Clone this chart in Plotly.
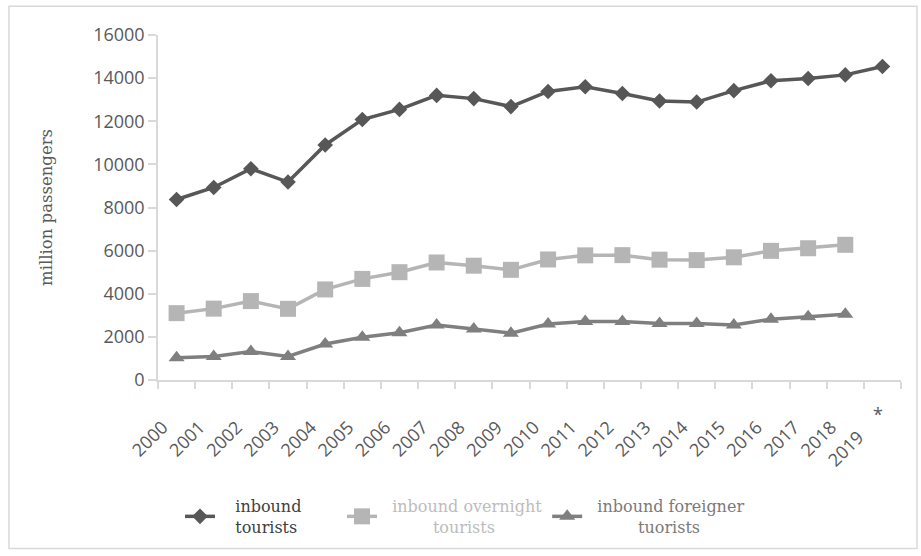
import plotly.graph_objects as go

# ---- data ----
years = [str(y) for y in range(2000, 2020)]
NB = "\u00a0"
tick_labels = [str(y) for y in range(2000, 2019)] + ["2019" + NB * 3]
last_note = "*"

inbound_tourists = [8370, 8930, 9800, 9180, 10900, 12080, 12550, 13200, 13050,
                    12680, 13380, 13600, 13290, 12940, 12890, 13420, 13880,
                    13980, 14150, 14540]
inbound_overnight = [3100, 3310, 3660, 3300, 4200, 4690, 5000, 5450, 5300, 5110,
                     5590, 5780, 5790, 5580, 5560, 5690, 5990, 6110, 6270]
inbound_foreigner = [1030, 1090, 1320, 1090, 1670, 1980, 2190, 2550, 2360, 2170,
                     2600, 2710, 2710, 2620, 2620, 2550, 2820, 2930, 3050]

series_names = [
    '<span style="color:#404040">' + NB * 3 + 'inbound' + NB * 7 + '<br>' + NB * 3 + 'tourists</span>',
    '<span style="color:#bcbcbc">' + NB * 2 + 'inbound overnight<br>' + NB * 10 + 'tourists</span>',
    '<span style="color:#7a7a7a">' + NB * 2 + 'inbound foreigner<br>' + NB * 10 + 'tuorists</span>',
]
colors = ["#575757", "#b5b5b5", "#7f7f7f"]
symbols = ["diamond", "square", "triangle-up"]
msizes = [12, 16, 14]

W, H = 921, 556
L, R, T, B = 158, 20, 35, 173
pw, ph = W - L - R, H - T - B

def px(xp):
    return (xp - L) / pw

def py(yp):
    return (T + ph - yp) / ph

fig = go.Figure()
for name, vals, c, s, ms in zip(series_names,
                                [inbound_tourists, inbound_overnight, inbound_foreigner],
                                colors, symbols, msizes):
    fig.add_trace(go.Scatter(
        x=tick_labels[:len(vals)], y=vals, name=name, mode="lines+markers",
        line=dict(color=c, width=3.5),
        marker=dict(symbol=s, size=ms, color=c, line=dict(width=0)),
    ))

axis_col = "#d9d9d9"
tick_font = dict(family="Open Sans", size=18, color="#595959")

fig.add_annotation(x=len(tick_labels) - 1, y=0, xref="x", yref="y", text=last_note,
                   showarrow=False, xanchor="center", yanchor="top",
                   xshift=-4, yshift=-20, font=tick_font)

fig.update_layout(
    width=W, height=H,
    margin=dict(l=L, r=R, t=T, b=B, pad=0),
    paper_bgcolor="white", plot_bgcolor="white",
    showlegend=True,
    legend=dict(
        orientation="h", x=px(180), xanchor="left", y=py(493), yanchor="top",
        font=dict(family="DejaVu Serif", size=16, color="#404040"),
        bgcolor="rgba(0,0,0,0)", itemwidth=30, tracegroupgap=0,
    ),
    xaxis=dict(
        type="category", categoryorder="array", categoryarray=tick_labels,
        range=[-0.5, len(tick_labels) - 0.5],
        tickson="boundaries", ticks="outside", ticklen=7, tickcolor=axis_col,
        tickwidth=1.5,
        showline=True, linecolor=axis_col, linewidth=1.5,
        showgrid=False, zeroline=False,
        tickangle=-45, tickfont=tick_font,
        ticklabelstandoff=28, ticklabelshift=-14,
    ),
    yaxis=dict(
        range=[0, 16000], dtick=2000, tick0=0, tickformat="d",
        ticks="outside", ticklen=8, tickcolor=axis_col, tickwidth=1.5,
        showline=True, linecolor=axis_col, linewidth=1.5,
        showgrid=False, zeroline=False,
        tickfont=tick_font,
        title=dict(text="million passengers",
                   font=dict(family="DejaVu Serif", size=16.5, color="#595959"),
                   standoff=36),
    ),
    shapes=[dict(type="rect", xref="paper", yref="paper",
                 x0=px(9), x1=px(917), y0=py(553), y1=py(6),
                 line=dict(color="#d9d9d9", width=1.5), layer="below")],
)

fig.write_html("out.html")
